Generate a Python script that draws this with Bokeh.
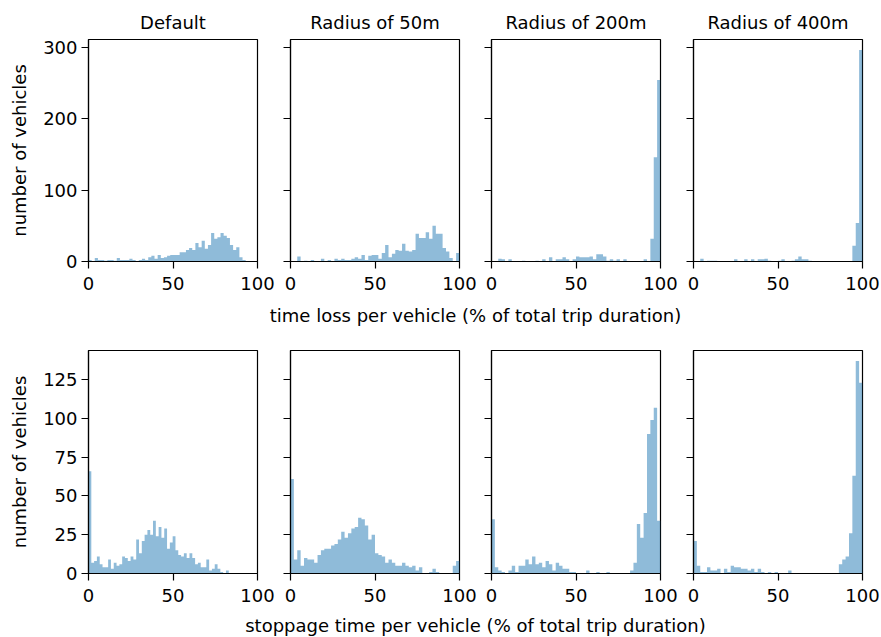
import numpy as np
from bokeh.plotting import figure
from bokeh.models import Range1d, FixedTicker, Label
from bokeh.layouts import column, row
from bokeh.embed import file_html
from bokeh.resources import INLINE

# ---------------- data ----------------
titles = ["Default", "Radius of 50m", "Radius of 200m", "Radius of 400m"]
x_ticks = [0, 50, 100]
top_y_ticks = [0, 100, 200, 300]
bottom_y_ticks = [0, 25, 50, 75, 100, 125]
top_xlabel = "time loss per vehicle (% of total trip duration)"
bottom_xlabel = "stoppage time per vehicle (% of total trip duration)"
ylabel = "number of vehicles"

# time loss histograms (50 bins each, bin range lo..hi)
timeloss_default = [2, 0, 5, 2, 2, 1, 2, 2, 1, 5, 2, 2, 2, 4, 2, 0, 2, 4, 2, 6,
                    8, 4, 9, 5, 6, 8, 9, 9, 9, 13, 13, 16, 19, 16, 26, 20, 29, 18, 23, 40,
                    32, 34, 40, 36, 33, 23, 16, 20, 6, 2]
timeloss_r50 = [0, 0, 7, 0, 1, 0, 2, 0, 0, 4, 0, 2, 0, 4, 2, 4, 2, 2, 4, 6,
                4, 9, 2, 8, 9, 9, 4, 12, 23, 6, 11, 16, 15, 25, 15, 14, 16, 39, 33, 33,
                41, 32, 50, 39, 39, 19, 14, 5, 0, 12]
timeloss_r200 = [0, 0, 4, 3, 0, 3, 0, 0, 0, 1, 0, 0, 0, 1, 0, 3, 0, 6, 0, 3,
                 3, 6, 3, 0, 3, 7, 6, 6, 6, 7, 3, 10, 10, 7, 1, 3, 1, 3, 0, 3,
                 0, 0, 0, 0, 0, 3, 0, 32, 146, 254]
timeloss_r400 = [0, 0, 4, 0, 1, 1, 1, 0, 0, 0, 0, 0, 3, 0, 0, 3, 0, 3, 0, 3,
                 3, 4, 1, 0, 0, 1, 3, 0, 0, 1, 3, 7, 3, 3, 1, 0, 0, 0, 0, 0,
                 0, 0, 0, 0, 0, 0, 0, 22, 54, 296]
timeloss_lo = [0, 0, 0, 0]
timeloss_hi = [93, 100, 100, 100]

# stoppage time histograms
stoppage_default = [66, 7, 8, 11, 6, 4, 4, 9, 3, 7, 5, 6, 11, 10, 8, 11, 9, 22, 13, 21,
                    25, 28, 25, 34, 24, 30, 23, 29, 16, 20, 24, 15, 12, 11, 13, 10, 13, 10, 6, 7,
                    4, 4, 9, 2, 3, 6, 3, 1, 0, 2]
stoppage_r50 = [61, 9, 15, 5, 10, 9, 9, 7, 12, 15, 16, 16, 18, 19, 22, 27, 23, 26, 29, 30,
                36, 35, 31, 22, 25, 13, 12, 11, 7, 9, 7, 5, 5, 7, 5, 4, 5, 2, 4, 0,
                0, 1, 3, 1, 0, 0, 0, 0, 5, 8]
stoppage_r200 = [35, 4, 2, 1, 0, 2, 5, 1, 5, 5, 9, 6, 11, 6, 7, 4, 8, 6, 2, 7,
                 5, 3, 3, 1, 1, 0, 0, 0, 2, 0, 0, 1, 0, 0, 1, 0, 0, 0, 0, 0,
                 0, 2, 7, 32, 23, 39, 90, 99, 107, 34]
stoppage_r400 = [21, 5, 1, 1, 4, 2, 2, 3, 0, 3, 1, 5, 4, 4, 3, 3, 2, 3, 1, 3,
                 1, 0, 1, 0, 1, 0, 0, 0, 2, 0, 0, 0, 0, 0, 0, 0, 0, 0, 0, 0,
                 0, 0, 0, 6, 9, 11, 26, 63, 137, 123]
stoppage_lo = [0, 0, 0, 0]
stoppage_hi = [83, 100, 100, 100]

timeloss = [timeloss_default, timeloss_r50, timeloss_r200, timeloss_r400]
stoppage = [stoppage_default, stoppage_r50, stoppage_r200, stoppage_r400]

# ---------------- styling / layout ----------------
FONT = "DejaVu Sans"
BAR_COLOR = "#1f77b4"
FRAME_W = 169
LEFT_B = [88, 13, 13, 13]
RIGHT_B = [20, 19, 20, 18]
TOTAL_W = sum(LEFT_B) + sum(RIGHT_B) + 4 * FRAME_W


def make_panel(counts, lo, hi, ymax, yticks, idx, title, top_b, frame_h, bottom_b):
    counts = np.asarray(counts, dtype=float)
    edges = np.linspace(lo, hi, len(counts) + 1)
    kw = dict(
        frame_width=FRAME_W, frame_height=frame_h,
        x_range=Range1d(0, 100), y_range=Range1d(0, ymax),
        output_backend="svg", toolbar_location=None,
        min_border_left=LEFT_B[idx], min_border_right=RIGHT_B[idx],
        min_border_top=top_b, min_border_bottom=bottom_b,
        title=title,
    )
    p = figure(**kw)
    # histogram drawn as one stepped outline so adjacent bars have no seams
    xs = np.repeat(edges, 2)
    ys = np.concatenate([[0.0], np.repeat(counts, 2), [0.0]])
    p.patch(xs, ys, fill_color=BAR_COLOR, fill_alpha=0.5, line_color=None)
    p.xgrid.visible = False
    p.ygrid.visible = False
    p.outline_line_color = "black"
    p.outline_line_width = 1.2
    p.background_fill_color = "white"
    p.border_fill_color = "white"
    if title is not None:
        p.title.text_font = FONT
        p.title.text_font_size = "18px"
        p.title.text_font_style = "normal"
        p.title.text_color = "black"
        p.title.align = "center"
        p.title.standoff = 14
    for ax in (p.xaxis[0], p.yaxis[0]):
        ax.axis_line_color = "black"
        ax.axis_line_width = 1.2
        ax.major_tick_line_color = "black"
        ax.major_tick_line_width = 1.2
        ax.major_tick_out = 7
        ax.major_tick_in = 0
        ax.minor_tick_line_color = None
        ax.major_label_text_font = FONT
        ax.major_label_text_font_size = "18px"
        ax.major_label_text_color = "black"
    p.xaxis.ticker = FixedTicker(ticks=x_ticks)
    p.xaxis.major_label_standoff = 8
    p.yaxis.ticker = FixedTicker(ticks=yticks)
    if idx == 0:
        p.yaxis.major_label_standoff = 4
        p.yaxis.axis_label = ylabel
        p.yaxis.axis_label_text_font = FONT
        p.yaxis.axis_label_text_font_size = "18px"
        p.yaxis.axis_label_text_font_style = "normal"
        p.yaxis.axis_label_text_color = "black"
        p.yaxis.axis_label_standoff = 10
    else:
        p.yaxis.major_label_overrides = {t: "" for t in yticks}
        p.yaxis.major_label_standoff = 0
    return p


def label_fig(text, height, center_from_top, center_x):
    p = figure(frame_width=TOTAL_W, frame_height=height,
               x_range=Range1d(0, TOTAL_W), y_range=Range1d(0, height),
               output_backend="svg", toolbar_location=None, title=None,
               min_border=0, min_border_left=0, min_border_right=0,
               min_border_top=0, min_border_bottom=0)
    p.axis.visible = False
    p.grid.visible = False
    p.outline_line_color = None
    p.background_fill_color = "white"
    p.border_fill_color = "white"
    p.add_layout(Label(x=center_x, y=height - center_from_top, text=text,
                       text_align="center", text_baseline="middle",
                       text_font=FONT, text_font_size="18px", text_color="black"))
    return p


top_max = max(max(c) for c in timeloss) * 1.05
bot_max = max(max(c) for c in stoppage) * 1.05

top_panels = [make_panel(timeloss[i], timeloss_lo[i], timeloss_hi[i], top_max, top_y_ticks,
                         i, titles[i], 39, 222, 37) for i in range(4)]
bot_panels = [make_panel(stoppage[i], stoppage_lo[i], stoppage_hi[i], bot_max, bottom_y_ticks,
                         i, None, 18, 223, 37) for i in range(4)]

center_x = (LEFT_B[0] + (TOTAL_W - RIGHT_B[3])) / 2.0
lab1 = label_fig(top_xlabel, 34, 17, center_x)
lab2 = label_fig(bottom_xlabel, 26, 15, center_x)

layout = column(row(*top_panels), lab1, row(*bot_panels), lab2)

open("out.html", "w").write(file_html(layout, INLINE))
